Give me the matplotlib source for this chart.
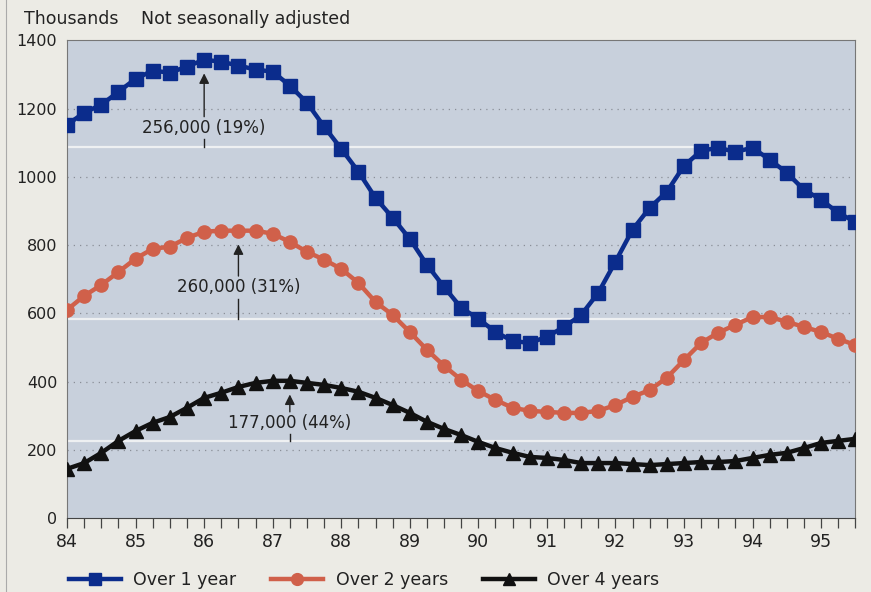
import numpy as np
import matplotlib.pyplot as plt
from matplotlib.lines import Line2D

# quarterly, 1984 Q1 to 1995 Q3 (thousands, not seasonally adjusted)
quarters = np.arange(47) * 0.25 + 84

over1 = [1152, 1188, 1211, 1249, 1287, 1311, 1305, 1323, 1343, 1337, 1326, 1314,
         1308, 1267, 1217, 1147, 1082, 1015, 938, 880, 818, 742, 677, 616,
         584, 545, 519, 513, 531, 560, 595, 660, 751, 845, 909, 956,
         1032, 1076, 1085, 1073, 1085, 1050, 1012, 962, 933, 894, 868]
over2 = [610, 651, 683, 721, 760, 789, 795, 821, 839, 842, 842, 842,
         833, 809, 780, 757, 730, 689, 633, 595, 545, 493, 446, 405,
         372, 346, 323, 314, 311, 308, 308, 314, 331, 355, 375, 411,
         463, 513, 543, 566, 589, 589, 575, 560, 545, 525, 507]
over4 = [144, 161, 191, 226, 255, 279, 296, 323, 352, 367, 384, 396,
         402, 402, 396, 390, 381, 370, 352, 331, 308, 282, 261, 243,
         223, 205, 191, 179, 176, 170, 161, 161, 161, 158, 155, 158,
         161, 164, 164, 167, 176, 185, 191, 205, 220, 226, 232]

# fall from peak: x of arrow, peak, fall, pct, end of level line, label y
drops = [
    (86.0, 1343, 256, 19, 93.25, 1144),
    (86.5, 842, 260, 31, 93.9, 677),
    (87.25, 402, 177, 44, 95.5, 279),
]

blue = '#0b2c8c'
red = '#d0604a'
black = '#111111'
txt = '#222222'

fig = plt.figure(figsize=(8.71, 5.92), dpi=100, facecolor='#ecebe5')
ax = fig.add_axes([0.077, 0.125, 0.905, 0.807])
ax.set_facecolor('#c8d0dc')

for v in range(200, 1400, 200):
    ax.axhline(v, color='#8a8f98', lw=0.9, ls=(0, (1, 4)), zorder=1)

# level reached after the fall
for x0, peak, fall, pct, xend, ty in drops:
    ax.hlines(peak - fall, 84, xend, color='#eef0f2', lw=1.6, zorder=1.5)

ax.plot(quarters, over1, color=blue, lw=3.2, marker='s', ms=9.5, zorder=3)
ax.plot(quarters, over2, color=red, lw=3.2, marker='o', ms=9.5, zorder=3)
ax.plot(quarters, over4, color=black, lw=3.2, marker='^', ms=10, zorder=3)

for x0, peak, fall, pct, xend, ty in drops:
    level = peak - fall
    ax.annotate('', xy=(x0, peak - 40), xytext=(x0, ty + 32),
                arrowprops=dict(arrowstyle='-|>', color=txt, lw=1.0,
                                mutation_scale=15, shrinkA=0, shrinkB=0),
                zorder=4)
    ax.text(x0, ty, f'{fall},000 ({pct}%)', ha='center', va='center',
            fontsize=12, color=txt, zorder=4)
    ax.plot([x0, x0], [ty - 34, level], color=txt, lw=1.0, zorder=4)

ax.set_xlim(84, 95.5)
ax.set_ylim(0, 1400)
ax.set_xticks(quarters)
ax.set_xticklabels([str(int(q)) if q == int(q) else '' for q in quarters])
ax.set_yticks(range(0, 1600, 200))
ax.tick_params(axis='x', length=7, width=0.9, color='#444444', labelsize=12.5,
               pad=4, labelcolor=txt)
ax.tick_params(axis='y', length=0, labelsize=11.5, pad=7, labelcolor=txt)
for s in ['top', 'right', 'left']:
    ax.spines[s].set_color('#777777')
    ax.spines[s].set_linewidth(0.8)
ax.spines['bottom'].set_color('#444444')

fig.text(0.027, 0.968, 'Thousands', fontsize=12.5, color=txt, va='center')
fig.text(0.162, 0.968, 'Not seasonally adjusted', fontsize=12.5, color=txt,
         va='center')

handles = [Line2D([], [], color=blue, lw=3.2, marker='s', ms=8),
           Line2D([], [], color=red, lw=3.2, marker='o', ms=8.5),
           Line2D([], [], color=black, lw=3.2, marker='^', ms=9)]
leg = fig.legend(handles, ['Over 1 year', 'Over 2 years', 'Over 4 years'],
                 loc='center', bbox_to_anchor=(0.418, 0.02), ncol=3,
                 frameon=False, fontsize=12.5, handlelength=3.0,
                 columnspacing=2.0, handletextpad=0.7)
for t in leg.get_texts():
    t.set_color(txt)

fig.add_artist(Line2D([0.007, 0.007], [0, 1], color='#aaaaaa', lw=0.8))

fig.savefig('out.png', dpi=100, facecolor=fig.get_facecolor())
